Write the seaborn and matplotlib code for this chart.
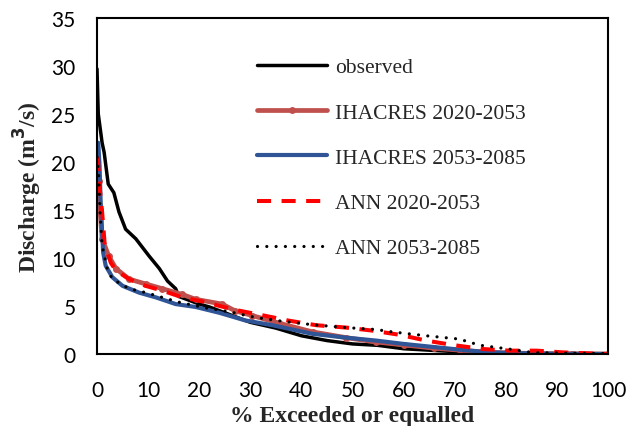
import matplotlib
matplotlib.use("Agg")
import matplotlib.pyplot as plt
import seaborn as sns
import pandas as pd

# ---- data ----
obs_x = [0, 0.25, 0.5, 1.0, 1.4, 2.2, 3.3, 4.3, 5.6, 7.6, 10.2, 12.2, 13.8, 15.4, 16.0, 17, 20, 22, 25, 28, 30, 35, 40, 45, 50, 55, 60, 65, 70, 75, 80, 90, 100]
obs_y = [29.7, 25.0, 24.0, 22.0, 21.0, 17.7, 16.8, 14.8, 13.0, 12.0, 10.2, 8.9, 7.6, 6.8, 6.0, 5.8, 5.2, 4.9, 4.3, 3.7, 3.3, 2.7, 1.9, 1.4, 1.05, 0.9, 0.55, 0.4, 0.25, 0.12, 0.06, 0.02, 0]

ih20_x = [0, 0.3, 0.6, 1.0, 2.3, 3.7, 6.3, 9.5, 12.8, 16.7, 19.3, 24.5, 27, 30.4, 35.7, 42.2, 48.8, 54.6, 60, 66, 71, 76, 80, 86, 93, 100]
ih20_y = [20.0, 18.0, 15.0, 12.0, 10.2, 8.9, 7.8, 7.3, 6.8, 6.2, 5.7, 5.2, 4.5, 4.0, 3.2, 2.3, 1.7, 1.25, 0.95, 0.6, 0.4, 0.2, 0.12, 0.05, 0.02, 0]

ih53_x = [0, 0.25, 0.5, 0.7, 1.0, 1.2, 1.7, 3, 5, 8.2, 11.5, 15.4, 19.3, 23.9, 29, 34.3, 42.2, 48.8, 54.6, 60, 66.4, 71, 76.2, 80, 86, 93, 100]
ih53_y = [22.0, 22.0, 19.6, 16.1, 12.7, 10.6, 9.2, 8.0, 7.1, 6.4, 5.9, 5.2, 4.9, 4.3, 3.5, 3.0, 2.1, 1.7, 1.4, 1.05, 0.7, 0.45, 0.2, 0.12, 0.05, 0.02, 0]

ann20_x = [0, 0.2, 0.5, 1.0, 1.5, 2.7, 3.7, 6.3, 9.5, 12.8, 16.7, 21.3, 24, 27, 31.8, 37.6, 42.9, 48.8, 54, 59.2, 64.4, 69.6, 75.5, 80.8, 86, 91.2, 97, 100]
ann20_y = [20.5, 20.1, 17.5, 14.8, 11.5, 9.5, 8.7, 7.8, 7.1, 6.6, 5.9, 5.4, 5.0, 4.6, 4.1, 3.47, 3.0, 2.75, 2.43, 2.0, 1.4, 0.94, 0.52, 0.35, 0.35, 0.17, 0.05, 0]

ann53_x = [0, 0.3, 0.6, 1.0, 2.0, 3.0, 6.3, 9.5, 16, 21.3, 25.9, 31.1, 35.7, 42.2, 48.8, 54.6, 57.8, 64.4, 71, 73, 75.5, 80.8, 85.3, 90, 100]
ann53_y = [20.5, 18.9, 14.8, 11.3, 8.9, 7.8, 6.8, 6.4, 5.4, 4.8, 4.4, 3.8, 3.45, 3.05, 2.75, 2.55, 2.3, 1.9, 1.55, 1.2, 0.87, 0.5, 0.15, 0.1, 0.05]

labels = ["observed", "IHACRES 2020-2053", "IHACRES 2053-2085", "ANN 2020-2053", "ANN 2053-2085"]
x_ticks = [0, 10, 20, 30, 40, 50, 60, 70, 80, 90, 100]
y_ticks = [0, 5, 10, 15, 20, 25, 30, 35]

sns.set_theme(style="white")
plt.rcParams["font.family"] = ["Lato", "DejaVu Sans"]

fig = plt.figure(figsize=(6.36, 4.27), dpi=100)
ax = fig.add_axes([0.1525, 0.1686, 0.8035, 0.787])

series = [
    (obs_x, obs_y, labels[0], dict(color="black", linewidth=2.5)),
    (ih20_x, ih20_y, labels[1], dict(color="#C0504D", linewidth=3.4, marker="o", markersize=5, markeredgewidth=0)),
    (ih53_x, ih53_y, labels[2], dict(color="#2F5597", linewidth=3.0)),
    (ann20_x, ann20_y, labels[3], dict(color="#FF0000", linewidth=2.9, dashes=(3.5, 2.6))),
    (ann53_x, ann53_y, labels[4], dict(color="black", linewidth=2.3, dashes=(0.01, 2.9), dash_capstyle="round")),
]
for xs, ys, lab, kw in series:
    df = pd.DataFrame({"x": xs, "y": ys})
    sns.lineplot(data=df, x="x", y="y", ax=ax, label=lab, sort=False, estimator=None, **kw)

ax.set_xlim(0, 100)
ax.set_ylim(0, 35)
ax.set_xticks(x_ticks)
ax.set_yticks(y_ticks)
ax.tick_params(axis="both", length=0, labelsize=15, colors="black")
ax.tick_params(axis="y", pad=15.5)
ax.tick_params(axis="x", pad=19)
for s in ax.spines.values():
    s.set_color("black")
    s.set_linewidth(1.5)

ax.set_xlabel("% Exceeded or equalled", fontfamily="Liberation Serif", fontweight="bold", fontsize=17, labelpad=3)
ax.set_ylabel("Discharge (m$^{\\mathbf{3}}$/s)", fontfamily="Liberation Serif", fontweight="bold", fontsize=17, labelpad=5)

leg = ax.legend(loc="upper left", bbox_to_anchor=(0.293, 0.915), frameon=False,
                prop={"family": "Liberation Serif", "size": 15.5},
                handlelength=3.25, handletextpad=0.37, labelspacing=1.17, borderpad=0.0)

fig.savefig("out.png", dpi=100)
